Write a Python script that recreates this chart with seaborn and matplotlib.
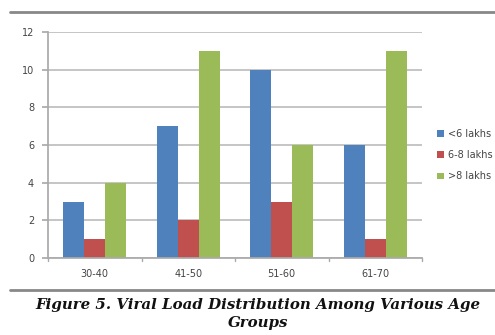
import matplotlib
matplotlib.use("Agg")
import matplotlib.pyplot as plt
from matplotlib.lines import Line2D
import seaborn as sns
import pandas as pd

categories = ["30-40", "41-50", "51-60", "61-70"]
series_names = ["<6 lakhs", "6-8 lakhs", ">8 lakhs"]
low_vals = [3, 7, 10, 6]
mid_vals = [1, 2, 3, 1]
high_vals = [4, 11, 6, 11]
y_ticks = [0, 2, 4, 6, 8, 10, 12]
caption = "Figure 5. Viral Load Distribution Among Various Age\nGroups"

colors = ["#4F81BD", "#C0504D", "#9BBB59"]

rows = []
for name, vals in zip(series_names, [low_vals, mid_vals, high_vals]):
    for c, v in zip(categories, vals):
        rows.append({"Age": c, "Series": name, "Count": v})
df = pd.DataFrame(rows)

sns.set_theme(style="white")
plt.rcParams['font.family'] = ['DejaVu Sans']

fig = plt.figure(figsize=(4.95, 3.35), dpi=100)
ax = fig.add_axes([48/495, 1-258/335, (422-48)/495, (258-32)/335])

sns.barplot(data=df, x="Age", y="Count", hue="Series", palette=colors,
            width=0.67, saturation=1, ax=ax, gap=0, linewidth=0)

ax.set_ylim(0, 12)
ax.set_yticks(y_ticks)
ax.set_xlim(-0.5, 3.5)
ax.set_xlabel("")
ax.set_ylabel("")
ax.yaxis.grid(True, color="#BBBBBB", linewidth=1.2)
ax.set_axisbelow(True)
for s in ["top", "right"]:
    ax.spines[s].set_visible(False)
ax.spines["left"].set_color("#AAAAAA")
ax.spines["bottom"].set_color("#AAAAAA")
ax.tick_params(axis="y", labelsize=7, colors="#444444", length=4, left=True, color="#AAAAAA", pad=6)
ax.tick_params(axis="x", labelsize=7, colors="#444444", length=0, pad=8)
for xb in [-0.5, 0.5, 1.5, 2.5, 3.5]:
    ax.plot([xb, xb], [0, -0.15], color="#AAAAAA", lw=1, clip_on=False)

leg = ax.legend(loc="center left", bbox_to_anchor=(1.03, 0.455), frameon=False,
                fontsize=7, handlelength=0.7, handleheight=0.7, handletextpad=0.4,
                labelspacing=1.15, borderaxespad=0)
for t in leg.get_texts():
    t.set_color("#444444")

fig.add_artist(Line2D([10/495, 1], [1-12/335, 1-12/335], color="#888888", lw=2))
fig.add_artist(Line2D([10/495, 1], [1-290/335, 1-290/335], color="#888888", lw=2))

fig.text(258/495, 1-314/335, caption, ha="center", va="center", fontsize=10.8,
         fontweight="bold", fontstyle="italic", family=["DejaVu Serif"],
         linespacing=1.45, color="#111111")

fig.savefig("out.png", dpi=100)
